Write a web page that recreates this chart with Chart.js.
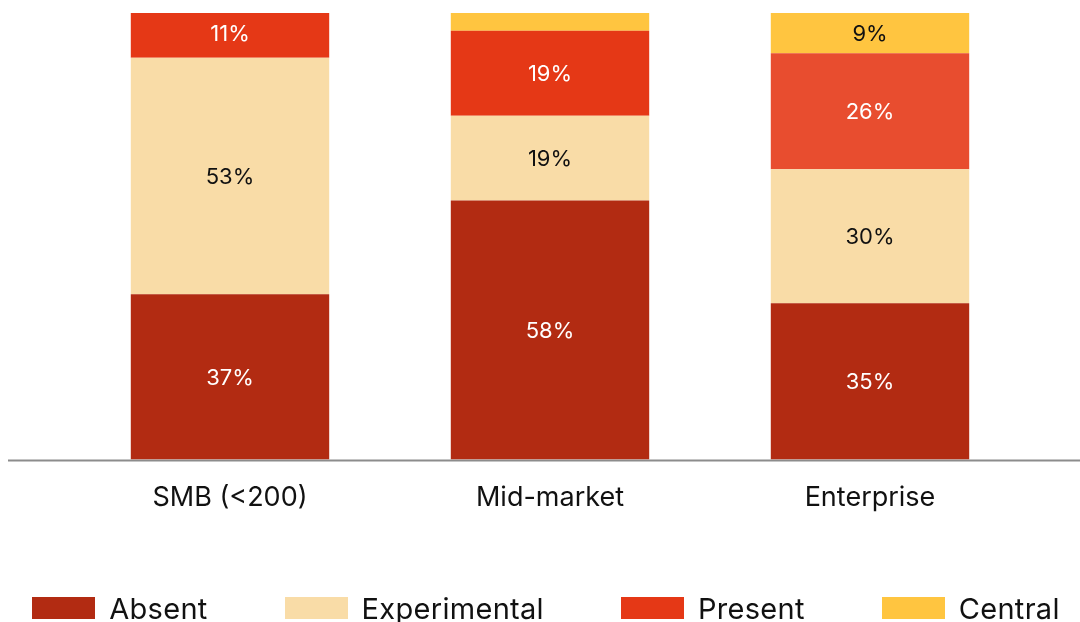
<!DOCTYPE html>
<html>
<head>
<meta charset="utf-8">
<script src="https://cdn.jsdelivr.net/npm/chart.js@4/dist/chart.umd.min.js"></script>
<style>
  html, body { margin: 0; padding: 0; background: #fff; overflow: hidden; }
  #wrap { position: relative; width: 1080px; height: 622px; }
  #chart { position: absolute; left: 0; top: 0; }
  #legend {
    position: absolute; left: 0; top: 589px; width: 1080px; box-sizing: border-box;
    padding-left: 12px; display: flex; justify-content: center; gap: 77px;
    font-family: Inter, "Noto Sans", sans-serif; font-size: 29px; letter-spacing: 0.3px; color: #111;
  }
  .item { display: flex; align-items: center; height: 38px; white-space: nowrap; }
  .swatch { width: 63px; height: 22px; margin-right: 14px; }
</style>
</head>
<body>
<div id="wrap">
  <canvas id="chart" width="1080" height="622"></canvas>
  <div id="legend"></div>
</div>
<script>
// Company-size segments and share of respondents (%) per adoption stage
const categories = ['SMB (<200)', 'Mid-market', 'Enterprise'];
const seriesNames = ['Absent', 'Experimental', 'Present', 'Central'];
const absent = [37, 58, 35];
const experimental = [53, 19, 30];
const present = [11, 19, 26];
const central = [0, 4, 9];

const FONT = 'Inter, "Noto Sans", sans-serif';
const colors = {
  Absent: '#B22B12',
  Experimental: '#F9DCA7',
  Present: ['#E53816', '#E53816', '#E84D2F'],
  Central: '#FFC540'
};
const legendColors = ['#B22B12', '#F9DCA7', '#E53816', '#FFC540'];
const labelColors = ['#ffffff', '#111111', '#ffffff', '#111111'];

// Percent labels centred in each stacked segment
const segmentLabels = {
  id: 'segmentLabels',
  afterDatasetsDraw(chart) {
    const ctx = chart.ctx;
    ctx.save();
    ctx.font = '400 22px ' + FONT;
    ctx.textAlign = 'center';
    ctx.textBaseline = 'middle';
    chart.data.datasets.forEach((ds, di) => {
      const meta = chart.getDatasetMeta(di);
      meta.data.forEach((bar, i) => {
        const v = ds.data[i];
        if (v < 5) return;
        ctx.fillStyle = labelColors[di];
        ctx.fillText(v + '%', bar.x, (bar.y + bar.base) / 2 + 1);
      });
    });
    ctx.restore();
  }
};

// Baseline running across the full width under the bars
const baseline = {
  id: 'baseline',
  beforeDatasetsDraw(chart) {
    const ctx = chart.ctx;
    const y = chart.scales.y.getPixelForValue(0);
    ctx.save();
    ctx.strokeStyle = '#8c8c8c';
    ctx.lineWidth = 2;
    ctx.beginPath();
    ctx.moveTo(8, y + 1);
    ctx.lineTo(chart.width, y + 1);
    ctx.stroke();
    ctx.restore();
  }
};

const seriesData = [absent, experimental, present, central];
const datasets = seriesNames.map((name, k) => ({
  label: name,
  data: seriesData[k],
  backgroundColor: colors[name],
  borderWidth: 0,
  categoryPercentage: 1,
  barPercentage: 0.62
}));

new Chart(document.getElementById('chart'), {
  type: 'bar',
  data: { labels: categories, datasets },
  options: {
    responsive: false,
    animation: false,
    devicePixelRatio: 1,
    layout: { padding: { left: 70, right: 50, top: 13, bottom: 86 } },
    plugins: { legend: { display: false }, tooltip: { enabled: false } },
    scales: {
      x: {
        stacked: true,
        grid: { display: false, drawTicks: false },
        border: { display: false },
        ticks: { color: '#111', font: { family: FONT, size: 27 }, padding: 22 }
      },
      y: {
        stacked: true, display: false, min: 0, max: 100
      }
    }
  },
  plugins: [baseline, segmentLabels]
});

// Legend row built from the series
const legend = document.getElementById('legend');
seriesNames.forEach((name, k) => {
  const item = document.createElement('div');
  item.className = 'item';
  const sw = document.createElement('span');
  sw.className = 'swatch';
  sw.style.background = legendColors[k];
  const tx = document.createElement('span');
  tx.textContent = name;
  item.appendChild(sw);
  item.appendChild(tx);
  legend.appendChild(item);
});
</script>
</body>
</html>
